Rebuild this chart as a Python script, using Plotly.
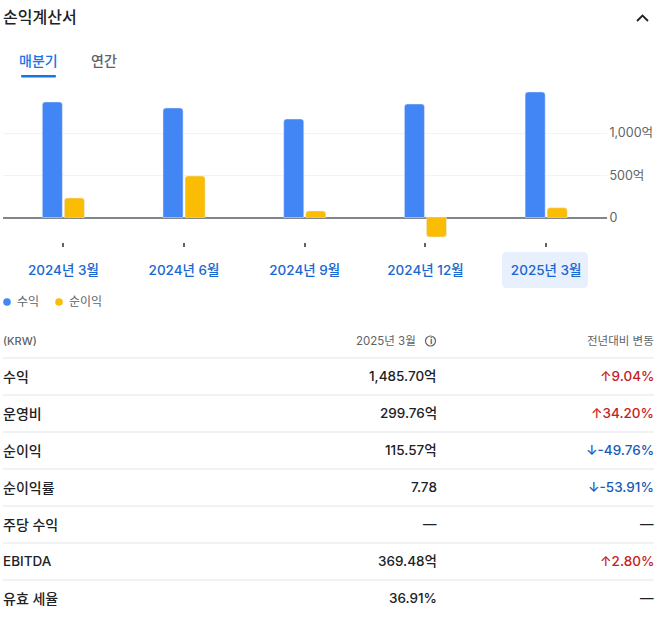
import plotly.graph_objects as go

# Data
QUARTERS = ["2024년 3월", "2024년 6월", "2024년 9월", "2024년 12월", "2025년 3월"]
REVENUE  = [1367, 1296, 1165, 1343, 1485.7]
NET      = [231, 491, 77, -230, 115.57]

Y_TICKS  = [0, 500, 1000]
Y_LABELS = ["0", "500억", "1,000억"]

ROW_NAMES  = ["수익", "운영비", "순이익", "순이익률", "주당 수익", "EBITDA", "유효 세율"]
ROW_VALUES = ["1,485.70억", "299.76억", "115.57억", "7.78", "—", "369.48억", "36.91%"]
ROW_YOY    = ["↑9.04%", "↑34.20%", "↓-49.76%", "↓-53.91%", "—", "↑2.80%", "—"]

# Variables
W, H = 661, 624
BLUE, YELLOW = "#4285f4", "#fbbc04"
LINK   = "#1a73e8"
TEXT   = "#202124"
GRAY   = "#5f6368"
RED    = "#c5221f"
DOWN   = "#1a5bb5"
FONT   = "Inter, 'Noto Sans CJK KR', sans-serif"


# Helper Functions
def px(x):
    return x / W


def py(y):
    return 1 - y / H


def label(x, y, text, size=13, color=TEXT, anchor="left", weight=400):
    fig.add_annotation(
        x=px(x), y=py(y), xref="paper", yref="paper", text=text, showarrow=False,
        xanchor=anchor, yanchor="middle", align=anchor, borderpad=0, borderwidth=0,
        font=dict(family=FONT, size=size, color=color, weight=weight),
    )


def rounded(x0, y0, x1, y1, r, color):
    d = (
        f"M {px(x0 + r)} {py(y0)} L {px(x1 - r)} {py(y0)} Q {px(x1)} {py(y0)} {px(x1)} {py(y0 + r)} "
        f"L {px(x1)} {py(y1 - r)} Q {px(x1)} {py(y1)} {px(x1 - r)} {py(y1)} "
        f"L {px(x0 + r)} {py(y1)} Q {px(x0)} {py(y1)} {px(x0)} {py(y1 - r)} "
        f"L {px(x0)} {py(y0 + r)} Q {px(x0)} {py(y0)} {px(x0 + r)} {py(y0)} Z"
    )
    fig.add_shape(type="path", path=d, xref="paper", yref="paper",
                  fillcolor=color, line_width=0, layer="below")


def circle(cx, cy, r, fill, line_color=None):
    fig.add_shape(
        type="circle", xref="paper", yref="paper",
        x0=px(cx - r), x1=px(cx + r), y0=py(cy + r), y1=py(cy - r),
        fillcolor=fill, line=dict(color=line_color, width=1.2) if line_color else dict(width=0),
    )


def hline(y, x0=3, x1=654, color="#e3e5e8"):
    fig.add_shape(type="line", xref="paper", yref="paper",
                  x0=px(x0), x1=px(x1), y0=py(y), y1=py(y), line=dict(color=color, width=1))


# Chart
fig = go.Figure()
fig.add_trace(go.Bar(x=QUARTERS, y=REVENUE, name="수익", marker_color=BLUE))
fig.add_trace(go.Bar(x=QUARTERS, y=NET, name="순이익", marker_color=YELLOW))

fig.update_layout(
    width=W, height=H, margin=dict(l=0, r=0, t=0, b=0),
    plot_bgcolor="white", paper_bgcolor="white", showlegend=False,
    barmode="group", bargap=0.635, bargroupgap=0.09, barcornerradius=3,
    font=dict(family=FONT),
)
fig.update_xaxes(
    domain=[px(3), px(606.5)], range=[-0.5, 4.5], showgrid=False, showline=False, zeroline=False,
    ticks="outside", ticklen=4, tickwidth=2, tickcolor=GRAY, ticklabelstandoff=12,
    tickfont=dict(family=FONT, size=13.5, color="#1967d2", weight=500),
)
fig.update_yaxes(
    domain=[py(241.5), py(85)], range=[-284, 1568], side="right",
    tickvals=Y_TICKS, ticktext=Y_LABELS, ticklabelstandoff=2, ticks="",
    gridcolor="#f1f3f4", gridwidth=1, zeroline=True, zerolinecolor="#80868b", zerolinewidth=2,
    showline=False, tickfont=dict(family=FONT, size=12.5, color=GRAY),
)

# Header and tabs
label(3, 17, "손익계산서", size=16, weight=500)
fig.add_shape(type="path", xref="paper", yref="paper", line=dict(color=TEXT, width=1.8),
              path=f"M {px(637)} {py(21)} L {px(642.5)} {py(15.5)} L {px(648)} {py(21)}")
label(19, 61, "매분기", size=14, color=LINK, weight=500)
label(91, 61, "연간", size=14, color=GRAY, weight=500)
rounded(21, 75, 56, 77.5, 1, LINK)

# Selected quarter
rounded(502, 252, 588, 288, 5, "#e8f0fe")

# Legend
circle(7, 302, 3.8, BLUE)
label(17, 301, "수익", size=12, color=GRAY)
circle(59, 302, 3.8, YELLOW)
label(69, 301, "순이익", size=12, color=GRAY)

# Table
label(3, 341, "(KRW)", size=11, color=GRAY, weight=500)
label(416, 341, "2025년 3월", size=11.5, color=GRAY, anchor="right")
circle(430.5, 341, 5, "white", GRAY)
label(430.5, 341, "i", size=9, color=GRAY, anchor="center", weight=700)
label(654, 341, "전년대비 변동", size=11.5, color=GRAY, anchor="right")
hline(358)

for i, name in enumerate(ROW_NAMES):
    y = 376 + i * 37
    yoy = ROW_YOY[i]
    color = RED if yoy.startswith("↑") else DOWN if yoy.startswith("↓") else TEXT
    label(3, y, name, size=13.5 if name.isascii() else 14, weight=500)
    label(437, y, ROW_VALUES[i], size=13.5, weight=500, anchor="right")
    label(654, y, yoy, size=13.5, color=color, weight=500, anchor="right")
    if i < len(ROW_NAMES) - 1:
        hline(395 + i * 37)

# Export Chart
fig.write_html("out.html", config=dict(displayModeBar=False),
               post_script="document.body.style.margin='0';")
